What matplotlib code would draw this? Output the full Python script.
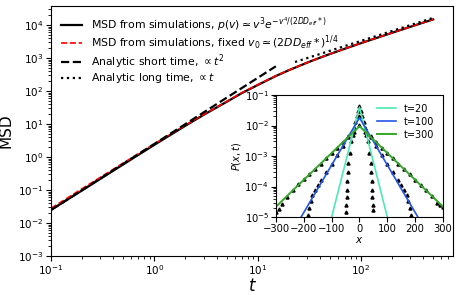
#!/usr/bin/env python3

import matplotlib
matplotlib.use("Agg")
import matplotlib.pyplot as plt

# --- MSD curves ---
t_sim = [0.1, 0.2, 0.5, 1, 2, 3, 5, 7, 10, 15, 20, 30, 40, 50, 70, 100, 200, 300, 500]
msd_pv = [0.025, 0.098, 0.60, 2.35, 8.9, 19, 47, 86, 152, 285, 426, 721, 1020, 1320, 1920, 2820, 5820, 8820, 14800]
msd_fixed = [0.028, 0.11, 0.66, 2.5, 9.3, 19.5, 48, 88, 155, 289, 430, 726, 1025, 1325, 1930, 2830, 5840, 8850, 14900]

t_short = [0.1, 15]
msd_short = [0.025, 562]
t_long = [23, 500]
msd_long = [760, 16500]

# --- inset: P(x,t), analytic lines ---
x_t20 = [-100, 0, 100]
p_t20 = [1e-5, 0.04, 1e-5]
x_t100 = [-210, 0, 210]
p_t100 = [1e-5, 0.018, 1e-5]
x_t300 = [-300, 0, 300]
p_t300 = [2.2e-5, 0.0095, 2.2e-5]

# --- inset: simulation points (triangles) ---
xs_20 = [-48, -47, -46, -45, -44, -43, -40, -35, -30, -25, -20, -15, -10, -5, 0,
         5, 10, 15, 20, 25, 30, 35, 40, 43, 44, 45, 46, 47, 48]
ps_20 = [1.5e-5, 2.5e-5, 4.5e-5, 8e-5, 1.5e-4, 3e-4, 6e-4, 1.3e-3, 3e-3, 5e-3, 8e-3, 1.3e-2, 2e-2, 3e-2, 4.5e-2,
         3e-2, 2e-2, 1.3e-2, 8e-3, 5e-3, 3e-3, 1.3e-3, 6e-4, 3e-4, 1.5e-4, 8e-5, 4.5e-5, 2.5e-5, 1.7e-5]

xs_100 = [-185, -180, -175, -170, -160, -150, -140, -120, -100, -80, -60, -40, -20, 0,
          20, 40, 60, 80, 100, 120, 140, 150, 160, 170, 175, 180, 185]
ps_100 = [1.2e-5, 2e-5, 3.5e-5, 5.5e-5, 8e-5, 1.1e-4, 1.6e-4, 2.9e-4, 5.6e-4, 1.1e-3, 2.2e-3, 4.5e-3, 8.5e-3, 2e-2,
          8.5e-3, 4.5e-3, 2.2e-3, 1.1e-3, 5.6e-4, 2.9e-4, 1.6e-4, 1.1e-4, 8e-5, 5.5e-5, 3.5e-5, 2e-5, 1.2e-5]

xs_300 = [-300, -290, -280, -260, -240, -220, -200, -180, -160, -140, -120, -100, -80, -60, -40, -20, 0,
          20, 40, 60, 80, 100, 120, 140, 160, 180, 200, 220, 240, 260, 280, 290, 300]
ps_300 = [1.5e-5, 1.8e-5, 2.6e-5, 4.6e-5, 7.8e-5, 1.25e-4, 1.8e-4, 2.6e-4, 3.8e-4, 5.6e-4, 8.5e-4, 1.25e-3, 1.9e-3, 2.8e-3, 4.2e-3, 6.3e-3, 1.05e-2,
          6.3e-3, 4.2e-3, 2.8e-3, 1.9e-3, 1.25e-3, 8.5e-4, 5.6e-4, 3.8e-4, 2.6e-4, 1.7e-4, 1.15e-4, 7.5e-5, 5e-5, 3e-5, 2.5e-5, 2.2e-5]

fig = plt.figure(figsize=(4.6, 2.95), dpi=100)
ax = fig.add_axes([0.111, 0.132, 0.874, 0.848])

ax.plot(t_sim, msd_pv, '-', color='black', lw=1.6,
        label=r'MSD from simulations, $p(v) \simeq v^3 e^{-v^4/(2DD_{eff}*)}$')
ax.plot(t_sim, msd_fixed, '--', color='red', lw=1.2,
        label=r'MSD from simulations, fixed $v_0 \simeq (2DD_{eff}*)^{1/4}$')
ax.plot(t_short, msd_short, '--', color='black', lw=1.6,
        label=r'Analytic short time, $\propto t^2$')
ax.plot(t_long, msd_long, ':', color='black', lw=1.6,
        label=r'Analytic long time, $\propto t$')

ax.set_xscale('log')
ax.set_yscale('log')
ax.set_xlim(0.1, 780)
ax.set_ylim(1e-3, 3.8e4)
ax.set_xlabel(r'$t$', fontsize=12, labelpad=0)
ax.set_ylabel('MSD', fontsize=11, labelpad=3)
ax.tick_params(labelsize=7.5, pad=2)
ax.legend(loc='upper left', fontsize=7.8, frameon=False, handlelength=2.0,
          labelspacing=0.05, borderaxespad=0.5)

# inset
ins = fig.add_axes([0.600, 0.264, 0.363, 0.414])
ins.plot(xs_20, ps_20, '^', color='black', ms=2.2)
ins.plot(xs_100, ps_100, '^', color='black', ms=2.2)
ins.plot(xs_300, ps_300, '^', color='black', ms=2.2)
ins.plot(x_t20, p_t20, '-', color='#4deab0', lw=1.2, label='t=20')
ins.plot(x_t100, p_t100, '-', color='#2456e8', lw=1.2, label='t=100')
ins.plot(x_t300, p_t300, '-', color='#35a82a', lw=1.4, label='t=300')
ins.set_yscale('log')
ins.set_xlim(-300, 300)
ins.set_ylim(1e-5, 1e-1)
ins.set_xticks([-300, -200, -100, 0, 100, 200, 300])
ins.tick_params(labelsize=7.2, pad=1.5)
ins.set_xlabel(r'$x$', fontsize=7.5, labelpad=1)
ins.set_ylabel(r'$P(x,t)$', fontsize=7, labelpad=1)
ins.legend(loc='upper right', fontsize=7, frameon=False, handlelength=2.0,
           labelspacing=0.3)

fig.savefig('out.png', dpi=100)
